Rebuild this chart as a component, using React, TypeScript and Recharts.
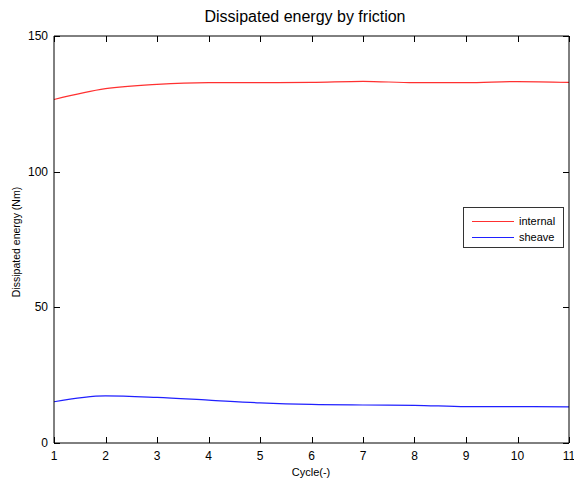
import React from 'react';
import { LineChart, Line, XAxis, YAxis } from 'recharts';

const cycles = [1, 2, 3, 4, 5, 6, 7, 8, 9, 10, 11];
const internalEnergy = [126.6, 130.6, 132.2, 132.8, 132.8, 132.9, 133.3, 132.8, 132.8, 133.2, 132.9];
const sheaveEnergy = [15.2, 17.4, 16.8, 15.8, 14.8, 14.2, 14.0, 13.9, 13.4, 13.4, 13.3];
const xTicks = [1, 2, 3, 4, 5, 6, 7, 8, 9, 10, 11];
const yTicks = [0, 50, 100, 150];

const data = cycles.map((c, i) => ({ cycle: c, internal: internalEnergy[i], sheave: sheaveEnergy[i] }));

const FONT = '"Liberation Sans", Arial, sans-serif';
const TICK = 6;
const px = (v: number) => Math.round(v) + 0.5;

// tick mark drawn inward from the axis line, label outside
const BottomTick = (props: any) => {
    const { x, y, payload } = props;
    return (
        <g>
            <path d={`M${px(x)},${y}V${y - TICK}`} stroke="#000" strokeWidth={1} fill="none" shapeRendering="crispEdges" />
            <text x={x} y={y + 17} textAnchor="middle" fontSize={12} fontFamily={FONT} fill="#000">{payload.value}</text>
        </g>
    );
};

const TopTick = (props: any) => {
    const { x, y } = props;
    return <path d={`M${px(x)},${y}V${y + TICK}`} stroke="#000" strokeWidth={1} fill="none" shapeRendering="crispEdges" />;
};

const LeftTick = (props: any) => {
    const { x, y, payload } = props;
    return (
        <g>
            <path d={`M${x},${px(y)}H${x + TICK}`} stroke="#000" strokeWidth={1} fill="none" shapeRendering="crispEdges" />
            <text x={x - 6} y={y + 4} textAnchor="end" fontSize={12} fontFamily={FONT} fill="#000">{payload.value}</text>
        </g>
    );
};

const RightTick = (props: any) => {
    const { x, y } = props;
    return <path d={`M${x},${px(y)}H${x - TICK}`} stroke="#000" strokeWidth={1} fill="none" shapeRendering="crispEdges" />;
};

const LegendBox = () => (
    <div style={{ border: '1px solid #333', background: '#fff', width: 101, height: 41, boxSizing: 'border-box', fontFamily: FONT, fontSize: 11, color: '#000', paddingTop: 5 }}>
        {[['internal', '#ff3030'], ['sheave', '#2020ff']].map(([name, color]) => (
            <div key={name} style={{ display: 'flex', alignItems: 'center', height: 16 }}>
                <div style={{ width: 42, height: 1, background: color, marginLeft: 8, marginRight: 5 }} />
                <span>{name}</span>
            </div>
        ))}
    </div>
);

const App: React.FC = () => {
    return (
        <div style={{ position: 'absolute', left: 0, top: 0, width: 574, height: 484, background: '#fff' }}>
            <div style={{ position: 'absolute', left: 0, width: 574, top: 8, textAlign: 'center', paddingLeft: 36, boxSizing: 'border-box', fontFamily: FONT, fontSize: 16, color: '#000' }}>
                Dissipated energy by friction
            </div>
            <div style={{ position: 'absolute', left: 10, top: 242, transform: 'translate(-50%, -50%) rotate(-90deg)', transformOrigin: 'center', whiteSpace: 'nowrap', fontFamily: FONT, fontSize: 10.5, color: '#000', marginLeft: 6 }}>
                Dissipated energy (Nm)
            </div>
            <div style={{ position: 'absolute', left: 0, width: 574, top: 466, textAlign: 'center', paddingLeft: 48, boxSizing: 'border-box', fontFamily: FONT, fontSize: 11, color: '#000' }}>
                Cycle(-)
            </div>
            <div style={{ position: 'absolute', left: 463, top: 207, zIndex: 2 }}>
                <LegendBox />
            </div>
            <div style={{ position: 'absolute', left: 0, top: 0 }}>
                <LineChart width={574} height={484} data={data} margin={{ top: 35, right: 4, left: 0, bottom: 0 }}>
                    <XAxis xAxisId="b" dataKey="cycle" type="number" domain={[1, 11]} ticks={xTicks} height={41}
                        stroke="#000" tickLine={false} tickSize={0} tickMargin={0} tick={BottomTick} interval={0} />
                    <XAxis xAxisId="t" orientation="top" dataKey="cycle" type="number" domain={[1, 11]} ticks={xTicks} height={1}
                        stroke="#000" tickLine={false} tickSize={0} tickMargin={0} tick={TopTick} interval={0} />
                    <YAxis yAxisId="l" type="number" domain={[0, 150]} ticks={yTicks} width={54}
                        stroke="#000" tickLine={false} tickSize={0} tickMargin={0} tick={LeftTick} interval={0} />
                    <YAxis yAxisId="r" orientation="right" type="number" domain={[0, 150]} ticks={yTicks} width={1}
                        stroke="#000" tickLine={false} tickSize={0} tickMargin={0} tick={RightTick} interval={0} />
                    <Line xAxisId="t" yAxisId="r" dataKey="sheave" stroke="none" dot={false} legendType="none" isAnimationActive={false} />
                    <Line xAxisId="b" yAxisId="l" type="monotone" dataKey="internal" stroke="#ff3030" strokeWidth={1.2} dot={false} isAnimationActive={false} />
                    <Line xAxisId="b" yAxisId="l" type="monotone" dataKey="sheave" stroke="#2020ff" strokeWidth={1.2} dot={false} isAnimationActive={false} />
                </LineChart>
            </div>
        </div>
    );
};

export default App;
